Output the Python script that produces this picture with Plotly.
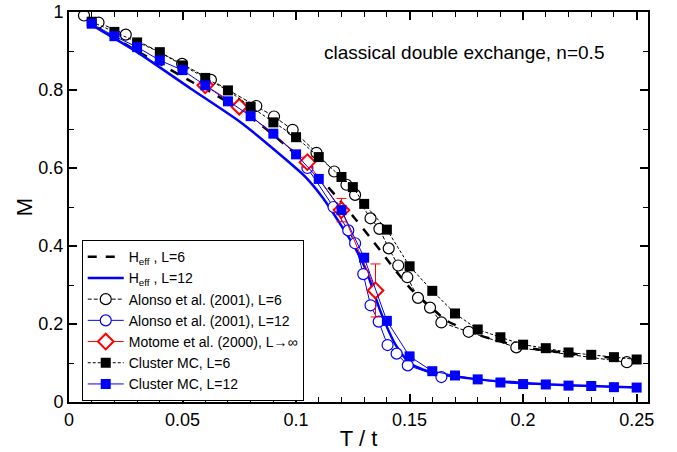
import plotly.graph_objects as go

# H_eff curves
heff6_T = [0.0105, 0.03, 0.055, 0.063, 0.074, 0.0857, 0.0974, 0.11, 0.1179, 0.126, 0.1325, 0.1395,
           0.1455, 0.1515, 0.16, 0.1662, 0.1808, 0.20, 0.22, 0.25]
heff6_M = [0.968, 0.90, 0.818, 0.793, 0.754, 0.705, 0.648, 0.577, 0.526, 0.47, 0.423, 0.37,
           0.325, 0.284, 0.24, 0.209, 0.171, 0.141, 0.125, 0.107]

heff12_T = [0.0105, 0.03, 0.0535, 0.0754, 0.0959, 0.104, 0.112, 0.1193, 0.1266, 0.131, 0.137,
            0.144, 0.15, 0.156, 0.162, 0.18, 0.20, 0.22, 0.25]
heff12_M = [0.965, 0.897, 0.804, 0.718, 0.62, 0.578, 0.522, 0.458, 0.389, 0.336, 0.235,
            0.145, 0.100, 0.083, 0.073, 0.058, 0.049, 0.043, 0.037]

# Alonso et al. (2001)
alonso6_T = [0.0066, 0.013, 0.025, 0.0498, 0.0625, 0.0825, 0.0903, 0.0985, 0.109, 0.1168, 0.1222,
             0.126, 0.1328, 0.1367, 0.1408, 0.145, 0.149, 0.1537, 0.159, 0.164, 0.176, 0.197, 0.2457]
alonso6_M = [0.991, 0.973, 0.942, 0.867, 0.826, 0.759, 0.732, 0.698, 0.639, 0.591, 0.557,
             0.531, 0.471, 0.444, 0.394, 0.35, 0.32, 0.267, 0.242, 0.204, 0.18, 0.14, 0.102]

alonso12_T = [0.105, 0.1165, 0.123, 0.126, 0.1296, 0.1328, 0.1364, 0.1403, 0.1443, 0.1492, 0.164]
alonso12_M = [0.60, 0.50, 0.44, 0.407, 0.328, 0.248, 0.206, 0.146, 0.124, 0.094, 0.064]

# Motome et al. (2000), L -> infinity
motome_T = [0.06, 0.075, 0.105, 0.12, 0.135]
motome_M = [0.812, 0.757, 0.615, 0.492, 0.286]
motome_err = [0.005, 0.008, 0.013, 0.03, 0.068]

# Cluster MC
cmc6_T = [0.01, 0.02, 0.03, 0.04, 0.05, 0.06, 0.07, 0.08, 0.09, 0.10, 0.11, 0.12, 0.125, 0.13,
          0.14, 0.15, 0.16, 0.17, 0.18, 0.19, 0.20, 0.21, 0.22, 0.23, 0.24, 0.25]
cmc6_M = [0.975, 0.949, 0.922, 0.897, 0.863, 0.831, 0.799, 0.757, 0.717, 0.679, 0.628, 0.577, 0.551,
          0.508, 0.442, 0.348, 0.285, 0.227, 0.186, 0.166, 0.147, 0.138, 0.127, 0.121, 0.115, 0.109]

cmc12_T = [0.01, 0.02, 0.03, 0.04, 0.05, 0.06, 0.07, 0.08, 0.09, 0.10, 0.11, 0.12, 0.13,
           0.14, 0.15, 0.16, 0.17, 0.18, 0.19, 0.20, 0.21, 0.22, 0.23, 0.24, 0.25]
cmc12_M = [0.970, 0.938, 0.910, 0.876, 0.851, 0.812, 0.771, 0.733, 0.688, 0.635, 0.572, 0.492, 0.370,
           0.208, 0.117, 0.079, 0.068, 0.058, 0.050, 0.046, 0.045, 0.042, 0.041, 0.038, 0.037]

BLUE = "#0000ff"
RED = "#ff0000"
FONT = "Liberation Sans, Arial, Helvetica, sans-serif"

fig = go.Figure()

fig.add_trace(go.Scatter(
    x=heff6_T, y=heff6_M, mode="lines", name="H<sub>eff</sub> , L=6",
    line=dict(color="black", width=2.5, dash="dash", shape="spline", smoothing=0.6)))
fig.add_trace(go.Scatter(
    x=heff12_T, y=heff12_M, mode="lines", name="H<sub>eff</sub> , L=12",
    line=dict(color=BLUE, width=2.5, shape="spline", smoothing=0.6)))
fig.add_trace(go.Scatter(
    x=alonso6_T, y=alonso6_M, mode="lines+markers", name="Alonso et al. (2001), L=6",
    line=dict(color="black", width=1, dash="4px,2px"),
    marker=dict(symbol="circle", size=11, color="white", line=dict(color="black", width=1.2))))
fig.add_trace(go.Scatter(
    x=alonso12_T, y=alonso12_M, mode="lines+markers", name="Alonso et al. (2001), L=12",
    line=dict(color=BLUE, width=1),
    marker=dict(symbol="circle", size=11, color="white", line=dict(color=BLUE, width=1.2))))
fig.add_trace(go.Scatter(
    x=motome_T, y=motome_M, mode="lines+markers", name="Motome et al. (2000), L\u2192\u221e",
    line=dict(color=RED, width=1),
    error_y=dict(type="data", array=motome_err, color=RED, thickness=1, width=5),
    marker=dict(symbol="diamond", size=12, color="white", line=dict(color=RED, width=2))))
fig.add_trace(go.Scatter(
    x=cmc6_T, y=cmc6_M, mode="lines+markers", name="Cluster MC, L=6",
    line=dict(color="black", width=1, dash="3px,2px"),
    marker=dict(symbol="square", size=10, color="black")))
fig.add_trace(go.Scatter(
    x=cmc12_T, y=cmc12_M, mode="lines+markers", name="Cluster MC, L=12",
    line=dict(color=BLUE, width=1),
    marker=dict(symbol="square", size=10, color=BLUE)))

axis_common = dict(
    showline=True, linecolor="black", linewidth=2, mirror="allticks",
    ticks="inside", ticklen=8, tickwidth=1.5, tickcolor="black",
    showgrid=False, zeroline=False, automargin=False,
    tickfont=dict(family=FONT, size=18, color="black"),
)

fig.update_xaxes(
    range=[0, 0.255], dtick=0.05, tick0=0,
    minor=dict(dtick=0.01, ticks="inside", ticklen=5, tickwidth=1.2, tickcolor="black"),
    title=dict(text="T / t", font=dict(family=FONT, size=22, color="black"), standoff=2),
    **axis_common)
fig.update_yaxes(
    range=[0, 1], dtick=0.2, tick0=0, tickformat="~g",
    minor=dict(dtick=0.1, ticks="inside", ticklen=5, tickwidth=1.2, tickcolor="black"),
    title=dict(text="M", font=dict(family=FONT, size=22, color="black"), standoff=0),
    **axis_common)

fig.add_annotation(
    x=0.927, y=0.895, xref="paper", yref="paper", xanchor="right", yanchor="middle",
    text="classical double exchange, n=0.5", showarrow=False,
    font=dict(family=FONT, size=19, color="black"))

fig.update_layout(
    width=677, height=452,
    margin=dict(l=69, r=29, t=12, b=50),
    paper_bgcolor="white", plot_bgcolor="white",
    font=dict(family=FONT, color="black"),
    showlegend=True,
    legend=dict(
        x=0.022, y=0.415, xanchor="left", yanchor="top",
        bgcolor="white", bordercolor="black", borderwidth=1,
        font=dict(family=FONT, size=14, color="black"),
        itemwidth=36, tracegroupgap=0,
    ),
)

fig.write_html("out.html")
